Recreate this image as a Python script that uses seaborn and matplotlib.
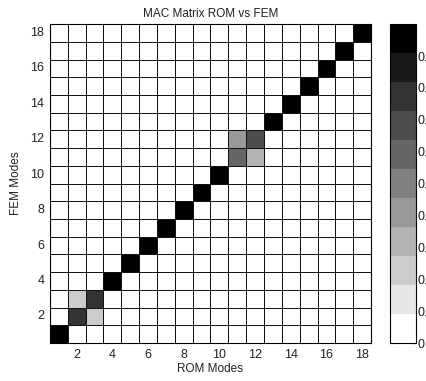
import numpy as np
import pandas as pd
import matplotlib
matplotlib.use("Agg")
import matplotlib.pyplot as plt
from matplotlib.colors import ListedColormap
import seaborn as sns

# Donnees
modes = list(range(1, 19))
diag_mac = [1.0, 0.78, 0.78, 1.0, 1.0, 1.0, 1.0, 1.0, 1.0, 1.0,
            0.60, 0.68, 1.0, 1.0, 1.0, 1.0, 1.0, 1.0]
# couplages hors diagonale : (ROM, FEM, valeur)
off_rom = [2, 3, 11, 12]
off_fem = [3, 2, 12, 11]
off_mac = [0.22, 0.22, 0.40, 0.30]
tick_modes = [2, 4, 6, 8, 10, 12, 14, 16, 18]
cbar_ticks = [0, 0.1, 0.2, 0.3, 0.4, 0.5, 0.6, 0.7, 0.8, 0.9]

mac = np.diag(diag_mac)
for r, f, v in zip(off_rom, off_fem, off_mac):
    mac[f - 1, r - 1] = v
df = pd.DataFrame(mac, index=modes, columns=modes)

sns.set_style("white")
plt.rcParams['font.family'] = ['Liberation Sans', 'DejaVu Sans']

# 11 niveaux de gris, blanc -> noir
grays = [str(1 - i / 10) for i in range(11)]
cmap = ListedColormap(grays)

fig = plt.figure(figsize=(4.26, 3.81), dpi=100)
ax = fig.add_axes([0.117, 0.0997, 0.754, 0.837])
cax = fig.add_axes([0.9155, 0.0997, 0.061, 0.837])

sns.heatmap(df, ax=ax, cbar_ax=cax, cmap=cmap, vmin=0, vmax=1,
            linewidths=0.5, linecolor='#111111', square=False)
ax.invert_yaxis()

ax.set_xticks([m - 0.5 for m in tick_modes])
ax.set_xticklabels(tick_modes, rotation=0)
ax.set_yticks([m - 0.5 for m in tick_modes])
ax.set_yticklabels(tick_modes, rotation=0)
ax.tick_params(direction='in', length=3, labelsize=9, colors='#222222',
               bottom=True, left=True, pad=4)
for s in ax.spines.values():
    s.set_visible(True)
    s.set_color('black')
    s.set_linewidth(0.8)

ax.set_title("MAC Matrix ROM vs FEM", fontsize=8.5, color='#222222', pad=5)
ax.set_xlabel("ROM Modes", fontsize=8.5, color='#222222', labelpad=2)
ax.set_ylabel("FEM Modes", fontsize=8.5, color='#222222', labelpad=6)

# barre de couleur (les etiquettes sont coupees au bord comme dans l'original)
cb = ax.collections[0].colorbar
cb.set_ticks(cbar_ticks)
cb.set_ticklabels([f"{t:g}" for t in cbar_ticks])
cax.tick_params(direction='in', length=3, labelsize=9, colors='#222222',
                left=True, right=True, pad=1)
cb.outline.set_visible(True)
cb.outline.set_edgecolor('black')
cb.outline.set_linewidth(0.8)

fig.savefig("out.png", dpi=100)
